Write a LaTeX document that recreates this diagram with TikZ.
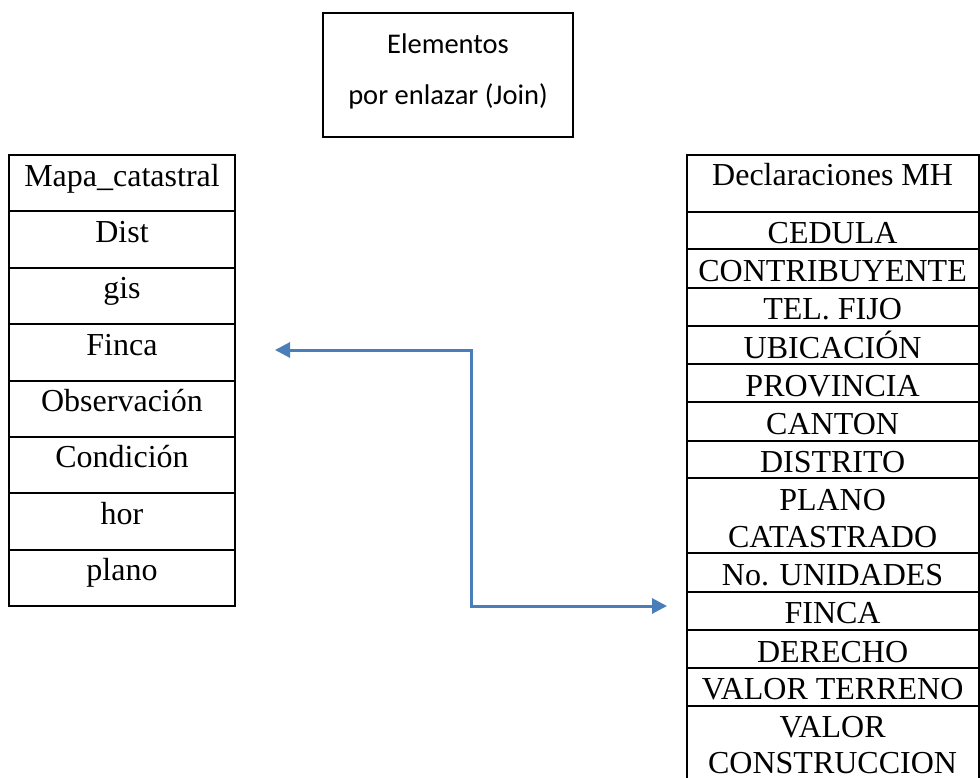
\documentclass[tikz,border=0pt]{standalone}
\usepackage{fontspec}
\setmainfont{Liberation Serif}
\newfontfamily\calibri{Carlito}
\usetikzlibrary{arrows.meta}
\definecolor{azulenlace}{HTML}{4A7EBB}

\begin{document}
\begin{tikzpicture}[x=1pt,y=-1pt,
    celda/.style={anchor=base,inner sep=0pt,font=\fontsize{32}{37}\selectfont},
    borde/.style={line width=2pt},
    enlace/.style={azulenlace,line width=3pt,
      {Triangle[length=15pt,width=15pt]}-{Triangle[length=15pt,width=15pt]}}]
    \useasboundingbox (0,0) rectangle (980,777);

    % Cuadro de los elementos por enlazar
    \draw[borde] (322.7,12.7) rectangle (573,137);
    \node[celda,font=\calibri\fontsize{28.5}{34}\selectfont] (elementos) at (448,53) {Elementos};
    \node[celda,font=\calibri\fontsize{28.5}{34}\selectfont] (porenlazar) at (448,104) {por enlazar (Join)};

    % Tabla Mapa_catastral
    \draw[borde] (9.3,155) rectangle (235,606);
    \draw[borde] (9.3,211.4) -- (235,211.4);
    \draw[borde] (9.3,267.8) -- (235,267.8);
    \draw[borde] (9.3,324.1) -- (235,324.1);
    \draw[borde] (9.3,380.5) -- (235,380.5);
    \draw[borde] (9.3,436.9) -- (235,436.9);
    \draw[borde] (9.3,493.3) -- (235,493.3);
    \draw[borde] (9.3,549.6) -- (235,549.6);
    \node[celda] (mapa) at (122,186) {Mapa\_catastral};
    \node[celda] (dist) at (122,242.4) {Dist};
    \node[celda] (gis) at (122,298.8) {gis};
    \node[celda] (finca) at (122,355.1) {Finca};
    \node[celda] (obs) at (122,411.5) {Observación};
    \node[celda] (cond) at (122,467.9) {Condición};
    \node[celda] (hor) at (122,524.3) {hor};
    \node[celda] (plano) at (122,580.6) {plano};

    % Tabla Declaraciones MH
    \draw[borde] (686.7,781) -- (686.7,155) -- (978.5,155) -- (978.5,781);
    \draw[borde] (686.7,211.7) -- (978.5,211.7);
    \draw[borde] (686.7,249.3) -- (978.5,249.3);
    \draw[borde] (686.7,287.7) -- (978.5,287.7);
    \draw[borde] (686.7,326) -- (978.5,326);
    \draw[borde] (686.7,364) -- (978.5,364);
    \draw[borde] (686.7,402.3) -- (978.5,402.3);
    \draw[borde] (686.7,440.7) -- (978.5,440.7);
    \draw[borde] (686.7,478.3) -- (978.5,478.3);
    \draw[borde] (686.7,553.3) -- (978.5,553.3);
    \draw[borde] (686.7,591.7) -- (978.5,591.7);
    \draw[borde] (686.7,630) -- (978.5,630);
    \draw[borde] (686.7,667.7) -- (978.5,667.7);
    \draw[borde] (686.7,706) -- (978.5,706);
    \node[celda] (decl) at (832.6,185) {Declaraciones MH};
    \node[celda] (cedula) at (832.6,243.7) {CEDULA};
    \node[celda] (contrib) at (832.6,281.3) {CONTRIBUYENTE};
    \node[celda] (tel) at (832.6,319.7) {TEL. FIJO};
    \node[celda] (ubic) at (832.6,358) {UBICACIÓN};
    \node[celda] (prov) at (832.6,396) {PROVINCIA};
    \node[celda] (canton) at (832.6,434.3) {CANTON};
    \node[celda] (distrito) at (832.6,472.7) {DISTRITO};
    \node[celda] (planocat) at (832.6,510.3) {PLANO};
    \node[celda] (planocatb) at (832.6,547.3) {CATASTRADO};
    \node[celda] (unidades) at (832.6,585.3) {No. UNIDADES};
    \node[celda] (fincamh) at (832.6,623.7) {FINCA};
    \node[celda] (derecho) at (832.6,662) {DERECHO};
    \node[celda] (terreno) at (832.6,699.7) {VALOR TERRENO};
    \node[celda] (constr) at (832.6,737.5) {VALOR};
    \node[celda] (constrb) at (832.6,773.5) {CONSTRUCCION};

    % Enlace entre Finca y FINCA
    \coordinate (finca-fin) at (275,350);
    \coordinate (codo) at (471,350);
    \coordinate (fincamh-fin) at (667,606);
    \draw[enlace] (finca-fin) -- (codo) |- (fincamh-fin);
\end{tikzpicture}
\end{document}
